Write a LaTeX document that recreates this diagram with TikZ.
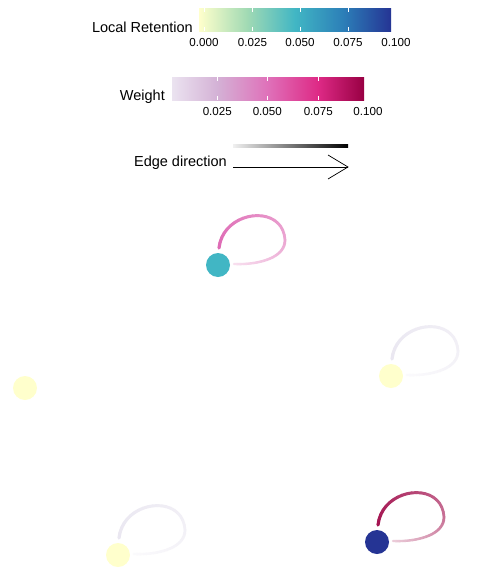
\documentclass[tikz,border=0pt]{standalone}
\usepackage{fontspec}
\setmainfont{Liberation Sans}
\definecolor{yl0}{HTML}{FFFFCC}
\definecolor{yl1}{HTML}{A1DAB4}
\definecolor{yl2}{HTML}{41B6C4}
\definecolor{yl3}{HTML}{2C7FB8}
\definecolor{yl4}{HTML}{253494}
\definecolor{pr0}{HTML}{EBE3F0}
\definecolor{pr1}{HTML}{D4B2D6}
\definecolor{pr2}{HTML}{DF72BA}
\definecolor{pr3}{HTML}{DE2A86}
\definecolor{pr4}{HTML}{980043}
\definecolor{lpa}{HTML}{DE6AB4}
\definecolor{lpb}{HTML}{A3124F}
\definecolor{lpf}{HTML}{EAE7F1}
\pgfdeclarehorizontalshading{ylgnbu}{100bp}{color(0bp)=(yl0); color(25bp)=(yl0); color(37.5bp)=(yl1); color(50bp)=(yl2); color(62.5bp)=(yl3); color(75bp)=(yl4); color(100bp)=(yl4)}
\pgfdeclarehorizontalshading{purd}{100bp}{color(0bp)=(pr0); color(25bp)=(pr0); color(36.7bp)=(pr1); color(49.7bp)=(pr2); color(63bp)=(pr3); color(75bp)=(pr4); color(100bp)=(pr4)}
\pgfdeclarelayer{bg}
\pgfsetlayers{bg,main}
\newcommand{\bezA}[1]{%
  \pgfmathsetmacro\bzx{(1-#1)^3*1+3*(1-#1)^2*#1*5+3*(1-#1)*#1^2*65+#1^3*67}%
  \pgfmathsetmacro\bzy{(1-#1)^3*(-17)+3*(1-#1)^2*#1*(-55)+3*(1-#1)*#1^2*(-62)+#1^3*(-25)}}
\newcommand{\bezB}[1]{%
  \pgfmathsetmacro\bzx{(1-#1)^3*67+3*(1-#1)^2*#1*67+3*(1-#1)*#1^2*35+#1^3*16}%
  \pgfmathsetmacro\bzy{(1-#1)^3*(-25)+3*(1-#1)^2*#1*(-5)+3*(1-#1)*#1^2*0+#1^3*(-1)}}
\newcommand{\gradloop}[3]{%
  \begin{scope}[shift={(#1.center)}]
  \foreach \i in {0,...,39}{%
    \pgfmathsetmacro\ta{mod(\i,20)/20}%
    \pgfmathsetmacro\tb{(mod(\i,20)+1)/20}%
    \pgfmathtruncatemacro\pct{100-78*(\i+0.5)/40}%
    \pgfmathsetmacro\lw{#3-0.9*(\i+0.5)/40}%
    \ifnum\i<20 \bezA{\ta}\else\bezB{\ta}\fi
    \let\xa\bzx \let\ya\bzy
    \ifnum\i<20 \bezA{\tb}\else\bezB{\tb}\fi
    \draw[line width=\lw pt, line cap=round, draw=#2!\pct!white] (\xa,\ya) -- (\bzx,\bzy);
  }%
  \end{scope}}
\begin{document}
\begin{tikzpicture}[x=1pt,y=-1pt,
  titletext/.style={font=\fontsize{14.5}{17}\selectfont, anchor=base east, inner sep=0},
  ticklab/.style={font=\fontsize{11.6}{14}\selectfont, anchor=base, inner sep=0},
  tickmark/.style={white, line width=0.8pt},
  vertex/.style={circle, inner sep=0, minimum size=24pt, draw=none}]
\useasboundingbox (0,0) rectangle (480,576);

% Legend: Local Retention
\node[titletext] (lrtitle) at (193,32.3) {Local Retention};
\shade[shading=ylgnbu] (199,8) rectangle (391,31);
\foreach \x in {204,252.5,300,348}{
  \draw[tickmark] (\x,8) -- (\x,12);
  \draw[tickmark] (\x,27) -- (\x,31);
}
\node[ticklab] (lr0) at (204,46) {0.000};
\node[ticklab] (lr1) at (252.5,46) {0.025};
\node[ticklab] (lr2) at (300,46) {0.050};
\node[ticklab] (lr3) at (348,46) {0.075};
\node[ticklab] (lr4) at (396,46) {0.100};

% Legend: Weight
\node[titletext] (wtitle) at (165,100.7) {Weight};
\shade[shading=purd] (172,77) rectangle (364,100);
\foreach \x in {217.3,267.3,318.3}{
  \draw[tickmark] (\x,77) -- (\x,81);
  \draw[tickmark] (\x,96) -- (\x,100);
}
\node[ticklab] (w1) at (217.3,115.7) {0.025};
\node[ticklab] (w2) at (267.3,115.7) {0.050};
\node[ticklab] (w3) at (318.3,115.7) {0.075};
\node[ticklab] (w4) at (368,115.7) {0.100};

% Legend: Edge direction
\node[titletext] (etitle) at (227,166.3) {Edge direction};
\shade[left color=black!6, right color=black] (233,144.6) rectangle (348,147.8);
\coordinate (ea) at (233,167);
\coordinate (eb) at (348,167);
\coordinate (eu) at (328,155);
\coordinate (ed) at (328,179);
\draw[line width=0.75pt] (ea) -- (eb);
\draw[line width=0.75pt] (eu) -- (eb) -- (ed);

% Nodes
\node[vertex, fill=yl2] (n1) at (218,265) {};
\node[vertex, fill=yl0] (n2) at (391,376) {};
\node[vertex, fill=yl0] (n3) at (25,388) {};
\node[vertex, fill=yl4] (n4) at (377,542) {};
\node[vertex, fill=yl0] (n5) at (118,555) {};

% Background and self loops
\begin{pgfonlayer}{bg}
\fill[white] (0,0) rectangle (480,576);
\gradloop{n1}{lpa}{3.2}
\gradloop{n2}{lpf}{3.2}
\gradloop{n4}{lpb}{3.2}
\gradloop{n5}{lpf}{3.2}
\end{pgfonlayer}
\end{tikzpicture}
\end{document}
